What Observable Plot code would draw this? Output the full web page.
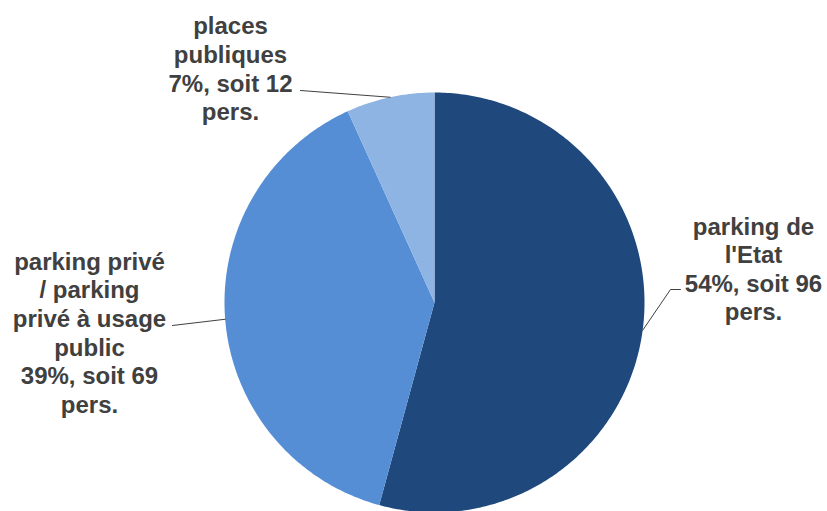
<!DOCTYPE html>
<html>
<head>
<meta charset="utf-8">
<script src="https://cdn.jsdelivr.net/npm/d3@7"></script>
<script src="https://cdn.jsdelivr.net/npm/@observablehq/plot@0.6"></script>
<style>
  html, body { margin: 0; padding: 0; background: #ffffff; }
</style>
</head>
<body>
<div id="chart"></div>
<script>
// ---- data ----
const categories = ["parking de l'Etat", "parking privé / parking privé à usage public", "places publiques"];
const persons = [96, 69, 12];
const percents = [54, 39, 7];
const labelTexts = [
  "parking de\nl'Etat\n54%, soit 96\npers.",
  "parking privé\n/ parking\nprivé à usage\npublic\n39%, soit 69\npers.",
  "places\npubliques\n7%, soit 12\npers."
];
const colors = ["#1F497D", "#558ED5", "#8EB4E3"];

// ---- layout ----
const W = 827, H = 511;
const cx = 434, cy = 302, R = 210;
const labelPos = [[753, 267.8], [89, 331.6], [230, 67.6]];
const leaderStart = [[[680, 289], [670, 289]], [[172, 325]], [[300, 90]]];

const pie = d3.pie().sort(null).value(d => d)(persons);

const polar = (a, r) => [cx + r * Math.sin(a), cy - r * Math.cos(a)];

const slices = pie.map((p, i) => {
  const pts = [{x: cx, y: cy}];
  const n = Math.max(4, Math.ceil((p.endAngle - p.startAngle) * 80));
  for (let k = 0; k <= n; k++) {
    const a = p.startAngle + (p.endAngle - p.startAngle) * k / n;
    const [x, y] = polar(a, R);
    pts.push({x, y});
  }
  return {pts, color: colors[i]};
});

const leaders = pie.map((p, i) => {
  const mid = (p.startAngle + p.endAngle) / 2;
  const [ex, ey] = polar(mid, R);
  return leaderStart[i].map(([x, y]) => ({x, y})).concat([{x: ex, y: ey}]);
});

const labels = labelTexts.map((t, i) => ({text: t, x: labelPos[i][0], y: labelPos[i][1]}));

const marks = [];
slices.forEach(s => {
  marks.push(Plot.line(s.pts, {x: "x", y: "y", fill: s.color, stroke: "none", curve: "linear"}));
});
leaders.forEach(l => {
  marks.push(Plot.line(l, {x: "x", y: "y", stroke: "#404040", strokeWidth: 1, curve: "linear"}));
});
marks.push(Plot.text(labels, {
  x: "x", y: "y", text: "text",
  fontSize: 24, fontWeight: "bold", fill: "#404040",
  fontFamily: "Liberation Sans, Arial, sans-serif",
  lineHeight: 1.19, lineAnchor: "middle", textAnchor: "middle"
}));

const chart = Plot.plot({
  width: W, height: H,
  margin: 0,
  x: {domain: [0, W], range: [0, W], axis: null},
  y: {domain: [0, H], range: [0, H], axis: null},
  style: {background: "#ffffff", fontFamily: "Liberation Sans, Arial, sans-serif"},
  marks
});
document.getElementById("chart").appendChild(chart);
</script>
</body>
</html>
